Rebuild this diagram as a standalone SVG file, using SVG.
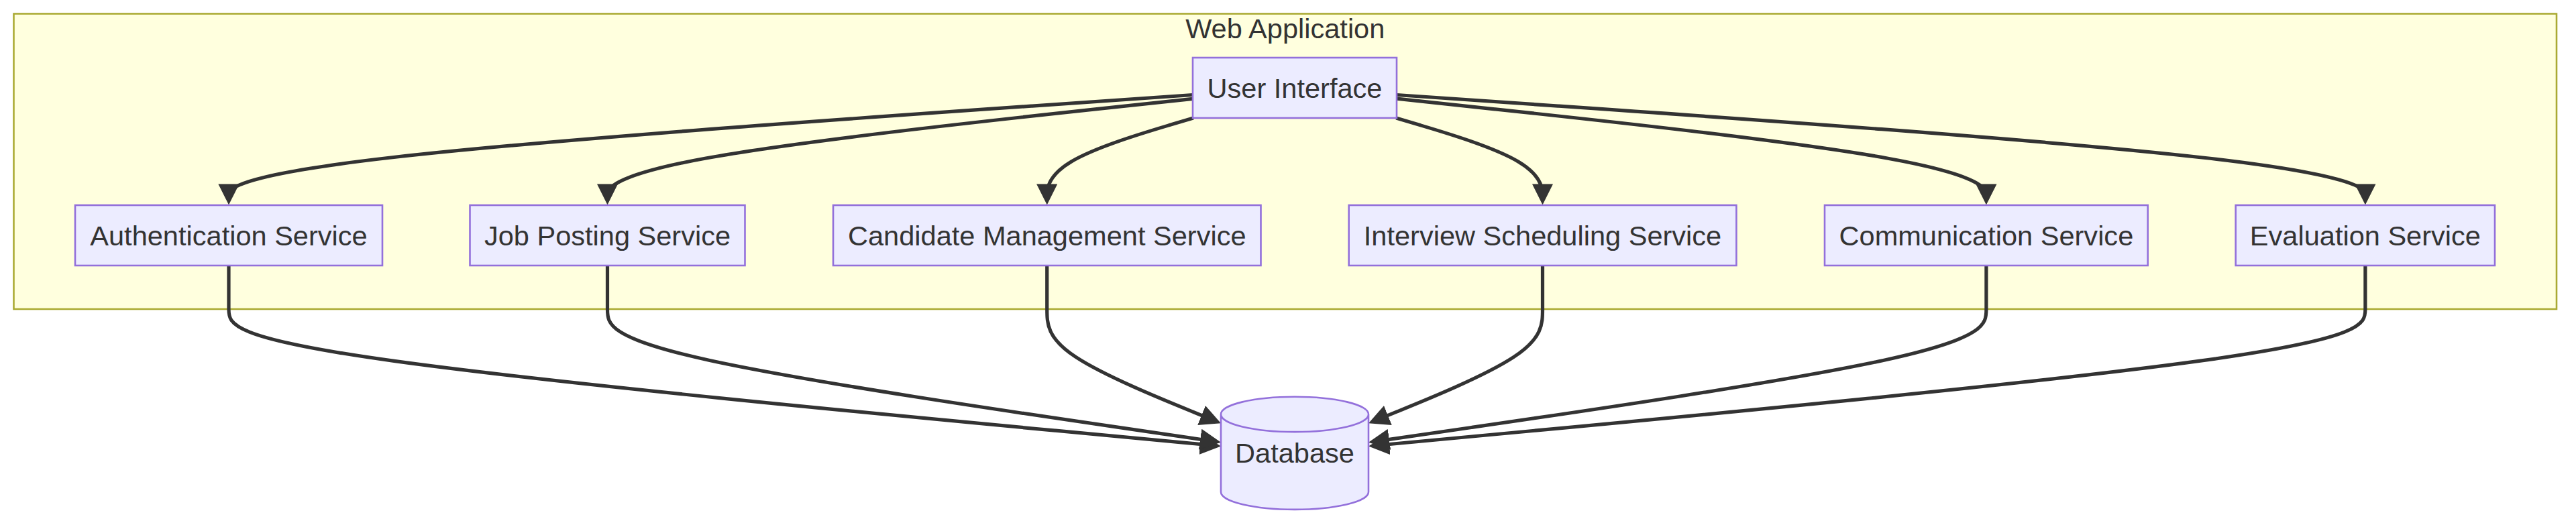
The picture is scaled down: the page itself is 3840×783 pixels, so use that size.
<svg xmlns="http://www.w3.org/2000/svg" width="3840" height="783" viewBox="0 0 3840 783">
<style>
.cluster{fill:#ffffde;stroke:#aaaa33;stroke-width:2.6}
.node rect,.node path{fill:#ECECFF;stroke:#9370DB;stroke-width:2.6}
.lbl{font-family:"Liberation Sans",Arial,sans-serif;font-size:41.55px;fill:#333333;text-anchor:middle}
.edge{fill:none;stroke:#333333;stroke-width:5.2}
</style>
<defs>
<marker id="arrow" viewBox="0 0 10 10" refX="5" refY="5" markerUnits="userSpaceOnUse" markerWidth="31.2" markerHeight="31.2" orient="auto">
<path d="M0,0 L10,5 L0,10 z" fill="#333333"/>
</marker>
</defs>
<rect width="3840" height="783" fill="#ffffff"/>
<g id="cluster-web-application">
<rect class="cluster" x="20.5" y="20.5" width="3790.5" height="440.5"/>
<text class="lbl" x="1915.75" y="57.3">Web Application</text>
</g>
<g id="connectors">
<path class="edge" marker-end="url(#arrow)" d="M1778,141.5 L1538.5,158.08 C1299,174.67 820,207.83 580.5,235.25 C341,262.67 341,284.33 341,290"/>
<path class="edge" marker-end="url(#arrow)" d="M1778,147.3 L1632.58,162.92 C1487.17,178.53 1196.33,209.77 1050.92,236.22 C905.5,262.67 905.5,284.33 905.5,290"/>
<path class="edge" marker-end="url(#arrow)" d="M1778.9,176 L1742.54,186.83 C1706.18,197.67 1633.47,219.33 1597.11,241 C1560.75,262.67 1560.75,284.33 1560.75,290"/>
<path class="edge" marker-end="url(#arrow)" d="M2081.2,176 L2117.58,186.83 C2153.97,197.67 2226.73,219.33 2263.12,241 C2299.5,262.67 2299.5,284.33 2299.5,290"/>
<path class="edge" marker-end="url(#arrow)" d="M2082,147.2 L2228.48,162.83 C2374.97,178.47 2667.93,209.73 2814.42,236.2 C2960.9,262.67 2960.9,284.33 2960.9,290"/>
<path class="edge" marker-end="url(#arrow)" d="M2082,141.5 L2322.65,158.08 C2563.3,174.67 3044.6,207.83 3285.25,235.25 C3525.9,262.67 3525.9,284.33 3525.9,290"/>
<path class="edge" marker-end="url(#arrow)" d="M341,396 L341,406.83 C341,417.67 341,439.33 341,461 C341,482.67 341,504.33 587.5,538.41 C834,572.48 1327,618.95 1573.5,642.19 L1804.47,663.97"/>
<path class="edge" marker-end="url(#arrow)" d="M905.5,396 L905.5,406.83 C905.5,417.67 905.5,439.33 905.5,461 C905.5,482.67 905.5,504.33 1057.92,537.45 C1210.33,570.57 1515.17,615.15 1667.58,637.43 L1804.56,657.46"/>
<path class="edge" marker-end="url(#arrow)" d="M1560.75,396 L1560.75,406.83 C1560.75,417.67 1560.75,439.33 1560.75,461 C1560.75,482.67 1560.75,504.33 1603.96,532.7 C1647.17,561.06 1733.58,596.12 1776.79,613.65 L1805.54,625.32"/>
<path class="edge" marker-end="url(#arrow)" d="M2299.5,396 L2299.5,406.83 C2299.5,417.67 2299.5,439.33 2299.5,461 C2299.5,482.67 2299.5,504.33 2256.25,532.7 C2213,561.07 2126.5,596.13 2083.25,613.67 L2054.46,625.34"/>
<path class="edge" marker-end="url(#arrow)" d="M2960.9,396 L2960.9,406.83 C2960.9,417.67 2960.9,439.33 2960.9,461 C2960.9,482.67 2960.9,504.33 2807.42,537.47 C2653.93,570.61 2346.97,615.21 2193.48,637.52 L2055.44,657.58"/>
<path class="edge" marker-end="url(#arrow)" d="M3525.9,396 L3525.9,406.83 C3525.9,417.67 3525.9,439.33 3525.9,461 C3525.9,482.67 3525.9,504.33 3278.25,538.41 C3030.6,572.49 2535.3,618.98 2287.65,642.23 L2055.53,664.01"/>
</g>
<g id="node-ui" class="node">
<rect x="1778" y="86" width="304" height="90"/>
<text class="lbl" x="1930" y="145.5">User Interface</text>
</g>
<g id="node-auth" class="node">
<rect x="112" y="306" width="458" height="90"/>
<text class="lbl" x="341" y="365.8">Authentication Service</text>
</g>
<g id="node-job" class="node">
<rect x="700.5" y="306" width="410" height="90"/>
<text class="lbl" x="905.5" y="365.8">Job Posting Service</text>
</g>
<g id="node-candidate" class="node">
<rect x="1242" y="306" width="637.5" height="90"/>
<text class="lbl" x="1560.75" y="365.8">Candidate Management Service</text>
</g>
<g id="node-interview" class="node">
<rect x="2010.7" y="306" width="577.7" height="90"/>
<text class="lbl" x="2299.5" y="365.8">Interview Scheduling Service</text>
</g>
<g id="node-communication" class="node">
<rect x="2720" y="306" width="481.7" height="90"/>
<text class="lbl" x="2960.9" y="365.8">Communication Service</text>
</g>
<g id="node-evaluation" class="node">
<rect x="3332.7" y="306" width="386.3" height="90"/>
<text class="lbl" x="3525.9" y="365.8">Evaluation Service</text>
</g>
<g id="node-database" class="node">
<path d="M1820,617.9 a110,26.2 0 0 0 220,0 a110,26.2 0 0 0 -220,0 l0,115.8 a110,26.2 0 0 0 220,0 l0,-115.8"/>
<text class="lbl" x="1930" y="690">Database</text>
</g>
</svg>
